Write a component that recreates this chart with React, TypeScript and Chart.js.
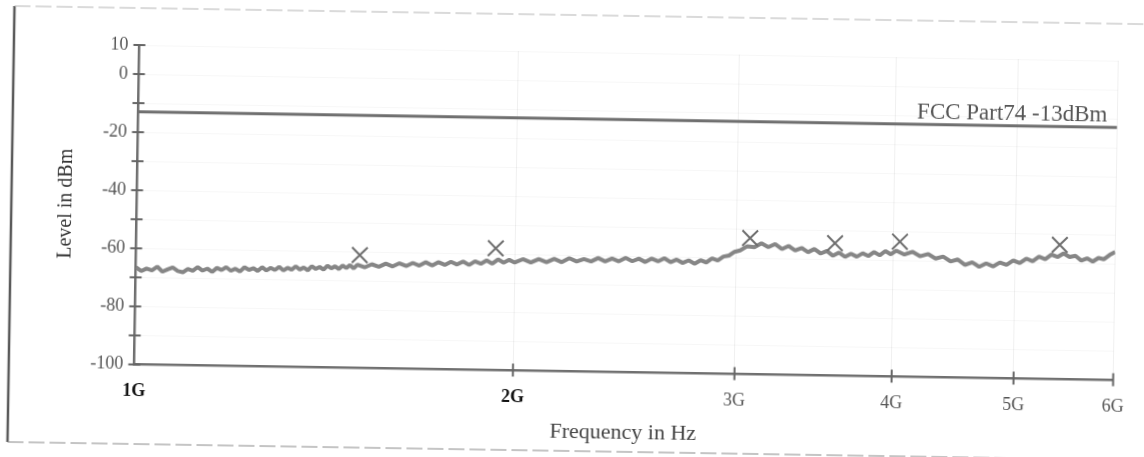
import React, { useEffect, useRef } from "react";
import { Chart, registerables } from "chart.js";

Chart.register(...registerables);

// ---- Data (frequencies in GHz, levels in dBm) ----
const xTickValues = [1, 2, 3, 4, 5, 6];
const xTickLabels = ["1G", "2G", "3G", "4G", "5G", "6G"];
const xBoldLabels = ["1G", "2G"];

const yMin = -100;
const yMax = 10;
const yStep = 10;
const yLabeledTicks = [10, 0, -20, -40, -60, -80, -100];

const limitFreqGHz = [1, 6];
const limitLevelDbm = [-13, -13];
const limitLabel = "FCC Part74 -13dBm";

const markerFreqGHz = [1.506, 1.931, 3.075, 3.592, 4.045, 5.42];
const markerLevelDbm = [-61.1, -58.0, -53.1, -54.4, -53.5, -53.7];

const traceFreqGHz = [
  1.0, 1.01, 1.02, 1.03, 1.04, 1.05, 1.06, 1.07, 1.08, 1.09,
  1.1, 1.11, 1.12, 1.13, 1.14, 1.15, 1.16, 1.17, 1.18, 1.19,
  1.2, 1.21, 1.22, 1.23, 1.24, 1.25, 1.26, 1.27, 1.28, 1.29,
  1.3, 1.31, 1.32, 1.33, 1.34, 1.35, 1.36, 1.37, 1.38, 1.39,
  1.4, 1.41, 1.42, 1.43, 1.44, 1.45, 1.46, 1.47, 1.48, 1.49,
  1.5,
  1.52, 1.54, 1.56, 1.58, 1.6, 1.62, 1.64, 1.66, 1.68, 1.7,
  1.72, 1.74, 1.76, 1.78, 1.8, 1.82, 1.84, 1.86, 1.88, 1.9,
  1.92, 1.94, 1.96, 1.98, 2.0,
  2.03, 2.06, 2.09, 2.12, 2.15, 2.18, 2.21, 2.24, 2.27, 2.3,
  2.33, 2.36, 2.39, 2.42, 2.45, 2.48, 2.51, 2.54, 2.57, 2.6,
  2.63, 2.66, 2.69, 2.72, 2.75, 2.78, 2.81, 2.84, 2.87, 2.9,
  2.93, 2.96, 2.99,
  3.02, 3.06, 3.1, 3.14, 3.18, 3.22, 3.26, 3.3, 3.34, 3.38,
  3.42, 3.46, 3.5, 3.54, 3.58, 3.62, 3.66, 3.7, 3.74, 3.78,
  3.82, 3.86, 3.9, 3.94, 3.98,
  4.02, 4.08, 4.14, 4.2, 4.26, 4.32, 4.38, 4.44, 4.5, 4.56,
  4.62, 4.68, 4.74, 4.8, 4.86, 4.92, 4.98, 5.04, 5.1, 5.16,
  5.22, 5.28, 5.34, 5.4, 5.46, 5.52, 5.58, 5.64, 5.7, 5.76,
  5.82, 5.88, 5.94, 6.0,
];

const traceLevelDbm = [
  -66.5, -67.8, -66.9, -67.5, -66.2, -67.9, -67.1, -66.4, -67.6, -68.0,
  -66.8, -67.4, -66.1, -67.3, -66.6, -67.7, -66.3, -67.0, -66.0, -67.2,
  -66.5, -67.4, -65.9, -66.8, -66.2, -67.1, -65.8, -66.9, -66.0, -66.7,
  -65.6, -66.8, -65.9, -66.5, -65.3, -66.4, -65.7, -66.6, -65.2, -66.1,
  -65.4, -66.3, -64.9, -65.8, -65.1, -66.0, -64.8, -65.6, -64.6, -65.7,
  -64.4,
  -65.3, -64.2, -65.0, -63.9, -64.8, -63.7, -64.6, -63.5, -64.4, -63.2,
  -64.3, -63.1, -64.0, -62.9, -63.8, -62.7, -63.9, -62.6, -63.4, -62.2,
  -63.3, -61.8, -62.9, -61.9, -62.8,
  -61.6, -62.7, -61.5, -62.5, -61.3, -62.4, -61.0, -62.1, -61.2, -62.0,
  -60.8, -61.9, -60.9, -61.8, -60.6, -61.7, -60.8, -61.9, -60.7, -61.6,
  -60.5, -61.8, -60.9, -62.0, -61.1, -62.2, -61.0, -61.7, -60.3, -61.0,
  -59.6, -59.2, -57.9,
  -57.4, -55.9, -56.2, -54.8, -56.1, -55.0, -56.7, -55.6, -57.1, -56.2,
  -57.6, -56.5, -58.0, -57.1, -58.7, -57.6, -59.0, -57.9, -58.9, -57.7,
  -58.6, -57.2, -58.3, -56.8, -57.9,
  -56.6, -57.9, -56.9, -58.4, -57.6, -59.1, -58.4, -60.0, -59.3, -61.1,
  -60.2, -61.7, -60.5, -61.5, -60.1, -60.9, -59.3, -60.2, -58.6, -59.5,
  -57.9, -58.7, -57.1, -57.9, -56.6, -57.8, -57.4, -59.0, -58.2, -59.3,
  -58.0, -58.4, -56.9, -55.8,
];

const SERIF = '"Liberation Serif", "Times New Roman", serif';

const decorPlugin = {
  id: "decor",
  beforeDraw(chart: any) {
    const ctx = chart.ctx;
    ctx.save();
    ctx.fillStyle = "#ffffff";
    ctx.fillRect(0, 0, chart.width, chart.height);
    // scanned page frame
    ctx.strokeStyle = "#5a5a5a";
    ctx.lineWidth = 2.5;
    ctx.beginPath();
    ctx.moveTo(11, 15);
    ctx.lineTo(11, 451);
    ctx.stroke();
    ctx.lineWidth = 1;
    ctx.setLineDash([16, 5]);
    ctx.strokeStyle = "#b5b5b5";
    ctx.beginPath();
    ctx.moveTo(11, 15);
    ctx.lineTo(chart.width, 15);
    ctx.stroke();
    ctx.strokeStyle = "#8a8a8a";
    ctx.beginPath();
    ctx.moveTo(11, 451);
    ctx.lineTo(chart.width, 451);
    ctx.stroke();
    ctx.restore();
  },
  afterDraw(chart: any) {
    const { ctx, chartArea, scales } = chart;
    const xs = scales.x;
    const ys = scales.y;
    ctx.save();
    ctx.strokeStyle = "#666666";
    ctx.lineWidth = 2;
    ys.ticks.forEach((t: any) => {
      const py = ys.getPixelForValue(t.value);
      ctx.beginPath();
      ctx.moveTo(chartArea.left - 6, py);
      ctx.lineTo(chartArea.left + 6, py);
      ctx.stroke();
    });
    xs.ticks.forEach((t: any) => {
      if (t.value === xTickValues[0]) return;
      const px = xs.getPixelForValue(t.value);
      ctx.beginPath();
      ctx.moveTo(px, chartArea.bottom - 7);
      ctx.lineTo(px, chartArea.bottom + 6);
      ctx.stroke();
    });
    ctx.font = `23px ${SERIF}`;
    ctx.fillStyle = "#555555";
    ctx.textAlign = "right";
    ctx.textBaseline = "alphabetic";
    ctx.fillText(limitLabel, chartArea.right - 10, ys.getPixelForValue(limitLevelDbm[1]) - 6);
    ctx.restore();
  },
};

export default function App() {
  const ref = useRef<HTMLCanvasElement>(null);

  useEffect(() => {
    const canvas = ref.current;
    if (!canvas) return;
    const chart = new Chart(canvas, {
      type: "line",
      data: {
        datasets: [
          {
            label: "Markers",
            data: markerFreqGHz.map((f, i) => ({ x: f, y: markerLevelDbm[i] })),
            showLine: false,
            pointStyle: "crossRot",
            pointRadius: 11,
            pointBorderWidth: 2,
            borderColor: "#6e6e6e",
            backgroundColor: "#6e6e6e",
            order: 0,
          },
          {
            label: "Trace",
            data: traceFreqGHz.map((f, i) => ({ x: f, y: traceLevelDbm[i] })),
            borderColor: "#868686",
            borderWidth: 4,
            borderJoinStyle: "bevel",
            pointRadius: 0,
            tension: 0,
            order: 1,
          },
          {
            label: "Limit",
            data: limitFreqGHz.map((f, i) => ({ x: f, y: limitLevelDbm[i] })),
            borderColor: "#6f6f6f",
            borderWidth: 3,
            pointRadius: 0,
            order: 2,
          },
        ],
      },
      options: {
        responsive: false,
        devicePixelRatio: 1,
        animation: false,
        layout: { padding: { left: 0, top: 52, right: 28.5, bottom: 0 } },
        plugins: {
          legend: { display: false },
          tooltip: { enabled: false },
        },
        scales: {
          x: {
            type: "logarithmic",
            min: xTickValues[0],
            max: xTickValues[xTickValues.length - 1],
            afterBuildTicks: (s: any) => {
              s.ticks = xTickValues.map((v) => ({ value: v }));
            },
            afterFit: (s: any) => {
              s.height = 85.5;
            },
            ticks: {
              autoSkip: false,
              maxRotation: 0,
              padding: 16,
              callback: (v: any) => xTickLabels[xTickValues.indexOf(Number(v))] ?? "",
              font: (c: any) => {
                const lbl = c.tick ? xTickLabels[xTickValues.indexOf(c.tick.value)] : "";
                return { family: SERIF, size: 18, weight: xBoldLabels.includes(lbl) ? "bold" : "normal" };
              },
              color: (c: any) => {
                const lbl = c.tick ? xTickLabels[xTickValues.indexOf(c.tick.value)] : "";
                return xBoldLabels.includes(lbl) ? "#111111" : "#555555";
              },
            },
            grid: { color: "#f0f0f0", lineWidth: 1, drawTicks: false },
            border: { color: "#707070", width: 2.5 },
            title: {
              display: true,
              text: "Frequency in Hz",
              color: "#444444",
              font: { family: SERIF, size: 22 },
              padding: { top: 0, bottom: 11.5 },
            },
          },
          y: {
            type: "linear",
            min: yMin,
            max: yMax,
            afterFit: (s: any) => {
              s.width = 136.5;
            },
            ticks: {
              stepSize: yStep,
              padding: 11,
              color: "#555555",
              font: { family: SERIF, size: 18 },
              callback: (v: any) => (yLabeledTicks.includes(Number(v)) ? String(v) : ""),
            },
            grid: { color: "rgba(0,0,0,0.03)", lineWidth: 1, drawTicks: false },
            border: { color: "#707070", width: 2.5 },
            title: {
              display: true,
              text: "Level in dBm",
              color: "#333333",
              font: { family: SERIF, size: 20 },
              padding: { top: 53.5, bottom: 0 },
            },
          },
        },
      },
      plugins: [decorPlugin],
    } as any);
    return () => chart.destroy();
  }, []);

  return (
    <div
      style={{
        position: "fixed",
        left: 0,
        top: 0,
        width: 1144,
        height: 457,
        overflow: "hidden",
        background: "#ffffff",
      }}
    >
      <canvas
        ref={ref}
        width={1144}
        height={457}
        style={{
          display: "block",
          width: 1144,
          height: 457,
          transform: "rotate(0.92deg)",
          transformOrigin: "50% 50%",
        }}
      />
    </div>
  );
}
